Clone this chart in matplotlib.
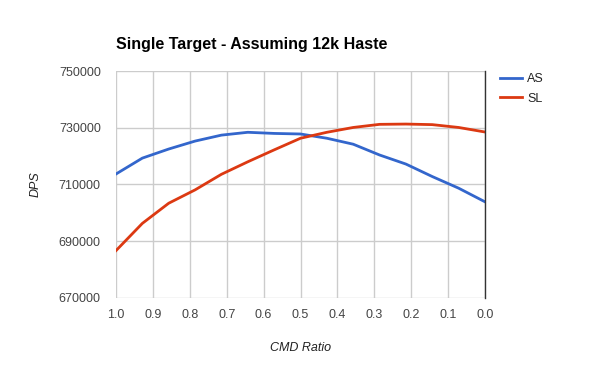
import numpy as np
import matplotlib
matplotlib.use("Agg")
import matplotlib.pyplot as plt

plt.rcParams['font.family'] = ['Liberation Sans', 'DejaVu Sans']

# CMD ratio steps (1/14 apart) and DPS per spec
cmd_ratio = np.linspace(1.0, 0.0, 15)
as_dps = [713700, 719300, 722500, 725300, 727400, 728400, 728000, 727800,
          726300, 724200, 720400, 717200, 712800, 708700, 703900]
sl_dps = [686700, 696300, 703400, 708100, 713600, 718000, 722200, 726300,
          728400, 730100, 731200, 731300, 731100, 730100, 728500]
x_ticks = [1.0, 0.9, 0.8, 0.7, 0.6, 0.5, 0.4, 0.3, 0.2, 0.1, 0.0]
y_ticks = [670000, 690000, 710000, 730000, 750000]

fig = plt.figure(figsize=(6, 3.71), dpi=100)
ax = fig.add_axes([116 / 600, 73 / 371, 369 / 600, 227 / 371])

ax.plot(cmd_ratio, as_dps, color='#3366cc', lw=2, label='AS')
ax.plot(cmd_ratio, sl_dps, color='#dc3912', lw=2, label='SL')

ax.set_xlim(1.0, 0.0)
ax.set_ylim(670000, 750000)
ax.set_xticks(x_ticks)
ax.set_xticklabels([f"{t:.1f}" for t in x_ticks])
ax.set_yticks(y_ticks)
ax.set_yticklabels([str(t) for t in y_ticks])
ax.grid(True, color='#cccccc', lw=1)
ax.set_axisbelow(True)
ax.tick_params(length=0, labelsize=9, colors='#444444')
ax.tick_params(axis='y', pad=11)
ax.tick_params(axis='x', pad=8)
for side in ['top', 'left', 'bottom']:
    ax.spines[side].set_visible(False)
ax.spines['right'].set_color('#333333')
ax.spines['right'].set_linewidth(1)

ax.set_xlabel('CMD Ratio', fontstyle='italic', fontsize=9, color='#222222', labelpad=15)
ax.set_ylabel('DPS', fontstyle='italic', fontsize=9, color='#222222', labelpad=12)

fig.text(116 / 600, 1 - 45 / 371, 'Single Target - Assuming 12k Haste',
         fontsize=11.5, fontweight='bold', va='center', ha='left')

ax.legend(loc='upper left', bbox_to_anchor=(1.01, 1.04), frameon=False,
          fontsize=9, handlelength=1.8, handletextpad=0.4, labelspacing=0.6,
          labelcolor='#222222')

fig.savefig('out.png', dpi=100)
